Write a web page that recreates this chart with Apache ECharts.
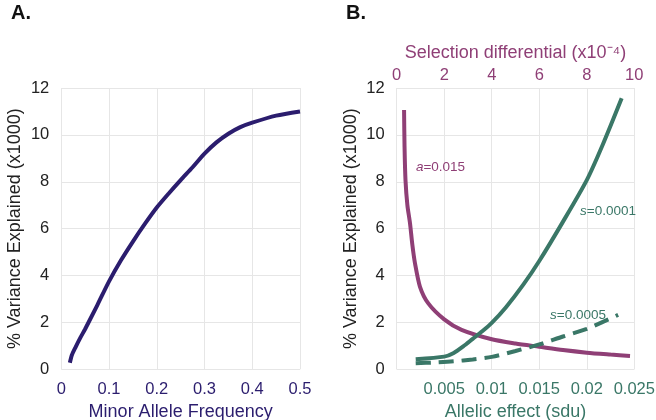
<!DOCTYPE html>
<html>
<head>
<meta charset="utf-8">
<script src="https://cdn.jsdelivr.net/npm/echarts@6/dist/echarts.min.js"></script>
<style>html,body{margin:0;padding:0;background:#fff}#c{width:656px;height:420px}</style>
</head>
<body>
<div id="c"></div>
<script>
// Panel A: Minor allele frequency vs % variance explained (x1000)
var mafX = [0.018, 0.022, 0.03, 0.04, 0.05, 0.075, 0.1, 0.125, 0.15, 0.175, 0.2, 0.225, 0.25, 0.275, 0.3, 0.325, 0.35, 0.375, 0.4, 0.45, 0.5];
var mafY = [0.28, 0.6, 0.95, 1.35, 1.72, 2.72, 3.75, 4.65, 5.45, 6.2, 6.9, 7.5, 8.07, 8.62, 9.2, 9.68, 10.05, 10.33, 10.52, 10.82, 11.0];

// Panel B: a=0.015 vs selection differential (x10^-4), top axis
var selX = [0.31, 0.33, 0.37, 0.45, 0.56, 0.66, 0.77, 0.98, 1.33, 2.0, 2.73, 4.0, 5.0, 6.0, 7.0, 8.0, 9.0, 9.82];
var selY = [11.06, 9.5, 8.07, 7.0, 6.23, 5.3, 4.52, 3.52, 2.81, 2.13, 1.68, 1.28, 1.1, 0.96, 0.82, 0.71, 0.63, 0.57];

// Panel B: s=0.0001 vs allelic effect (sdu), bottom axis
var effX1 = [0.002, 0.005, 0.006, 0.007, 0.008, 0.009, 0.01, 0.0115, 0.0133, 0.015, 0.0175, 0.02, 0.0217, 0.02367];
var effY1 = [0.43, 0.54, 0.7, 0.98, 1.3, 1.62, 1.98, 2.65, 3.6, 4.62, 6.3, 8.07, 9.6, 11.56];

// Panel B: s=0.0005 vs allelic effect (sdu), bottom axis
var effX2 = [0.002, 0.004, 0.006, 0.008, 0.01, 0.0125, 0.015, 0.0175, 0.02, 0.0233];
var effY2 = [0.26, 0.29, 0.34, 0.42, 0.53, 0.78, 1.06, 1.4, 1.72, 2.32];

var yTicks = {min: 0, max: 12, interval: 2};
var freqTicks = {min: 0, max: 0.5, interval: 0.1};
var effTicks = {min: 0, max: 0.025, interval: 0.005};
var selTicks = {min: 0, max: 10, interval: 2};

function pairs(xs, ys) { return xs.map(function (x, i) { return [x, ys[i]]; }); }

var NAVY = '#2b1d6e', MAG = '#8f3f76', GRN = '#3a7767', GRID = '#e6e6e6', TXT = '#222';
var FONT = 'Liberation Sans, Arial, sans-serif';

function yAxis(gi) {
  return {
    type: 'value', gridIndex: gi, min: yTicks.min, max: yTicks.max, interval: yTicks.interval,
    name: '% Variance Explained (x1000)', nameLocation: 'middle', nameGap: 37,
    nameTextStyle: {color: TXT, fontSize: 18, fontFamily: FONT},
    axisLine: {show: false}, axisTick: {show: false},
    axisLabel: {color: TXT, fontSize: 16.5, fontFamily: FONT, margin: 12},
    splitLine: {show: true, lineStyle: {color: GRID, width: 1}}
  };
}

function note(txt, ital, color) {
  return {show: true, position: 'right', distance: 0,
    formatter: '{i|' + ital + '}' + txt, color: color, fontSize: 13.5, fontFamily: FONT,
    rich: {i: {fontStyle: 'italic', color: color, fontSize: 13.5, fontFamily: FONT}}};
}

var chart = echarts.init(document.getElementById('c'), null, {renderer: 'canvas'});
chart.setOption({
  backgroundColor: '#fff',
  animation: false,
  title: [
    {text: 'A.', left: 6, top: -2, textStyle: {fontSize: 20, fontWeight: 'bold', color: '#111', fontFamily: FONT}},
    {text: 'B.', left: 341, top: -2, textStyle: {fontSize: 20, fontWeight: 'bold', color: '#111', fontFamily: FONT}}
  ],
  grid: [
    {left: 61.3, right: 356, top: 88, bottom: 50.7, show: false, containLabel: false, outerBoundsMode: 'none'},
    {left: 396.7, right: 21.7, top: 88, bottom: 50.7, show: false, containLabel: false, outerBoundsMode: 'none'}
  ],
  xAxis: [
    {
      type: 'value', gridIndex: 0, min: freqTicks.min, max: freqTicks.max, interval: freqTicks.interval,
      name: 'Minor Allele Frequency', nameLocation: 'middle', nameGap: 28,
      nameTextStyle: {color: NAVY, fontSize: 18, fontFamily: FONT},
      axisLine: {show: false}, axisTick: {show: false},
      axisLabel: {color: NAVY, fontSize: 16.5, fontFamily: FONT, margin: 12},
      splitLine: {show: true, lineStyle: {color: GRID, width: 1}}
    },
    {
      type: 'value', gridIndex: 1, position: 'bottom', min: effTicks.min, max: effTicks.max, interval: effTicks.interval,
      name: 'Allelic effect (sdu)', nameLocation: 'middle', nameGap: 28,
      nameTextStyle: {color: GRN, fontSize: 18, fontFamily: FONT},
      axisLine: {show: false}, axisTick: {show: false},
      axisLabel: {color: GRN, fontSize: 16.5, fontFamily: FONT, margin: 12, showMinLabel: false,
        formatter: function (v) { return v === 0 ? '' : String(+v.toFixed(3)); }},
      splitLine: {show: true, lineStyle: {color: GRID, width: 1}}
    },
    {
      type: 'value', gridIndex: 1, position: 'top', min: selTicks.min, max: selTicks.max, interval: selTicks.interval,
      name: 'Selection differential (x10⁻⁴)', nameLocation: 'middle', nameGap: 25,
      nameTextStyle: {color: MAG, fontSize: 18, fontFamily: FONT},
      axisLine: {show: false}, axisTick: {show: false},
      axisLabel: {color: MAG, fontSize: 16.5, fontFamily: FONT, margin: 4},
      splitLine: {show: false}
    }
  ],
  yAxis: [yAxis(0), yAxis(1)],
  series: [
    {
      type: 'line', xAxisIndex: 0, yAxisIndex: 0, data: pairs(mafX, mafY), smooth: 0.25,
      symbol: 'none', lineStyle: {color: NAVY, width: 4}
    },
    {
      type: 'line', xAxisIndex: 2, yAxisIndex: 1, data: pairs(selX, selY), smooth: 0.25,
      symbol: 'none', lineStyle: {color: MAG, width: 4},
      markPoint: {symbol: 'circle', symbolSize: 0, silent: true,
        data: [{coord: [0.81, 8.6], label: note('=0.015', 'a', MAG)}]}
    },
    {
      type: 'line', xAxisIndex: 1, yAxisIndex: 1, data: pairs(effX1, effY1), smooth: 0.25,
      symbol: 'none', lineStyle: {color: GRN, width: 4},
      markPoint: {symbol: 'circle', symbolSize: 0, silent: true,
        data: [{coord: [0.01929, 6.75], label: note('=0.0001', 's', GRN)}]}
    },
    {
      type: 'line', xAxisIndex: 1, yAxisIndex: 1, data: pairs(effX2, effY2), smooth: 0.25,
      symbol: 'none', lineStyle: {color: GRN, width: 4, type: [15, 8]},
      markPoint: {symbol: 'circle', symbolSize: 0, silent: true,
        data: [{coord: [0.01613, 2.32], label: note('=0.0005', 's', GRN)}]}
    }
  ]
});
</script>
</body>
</html>
